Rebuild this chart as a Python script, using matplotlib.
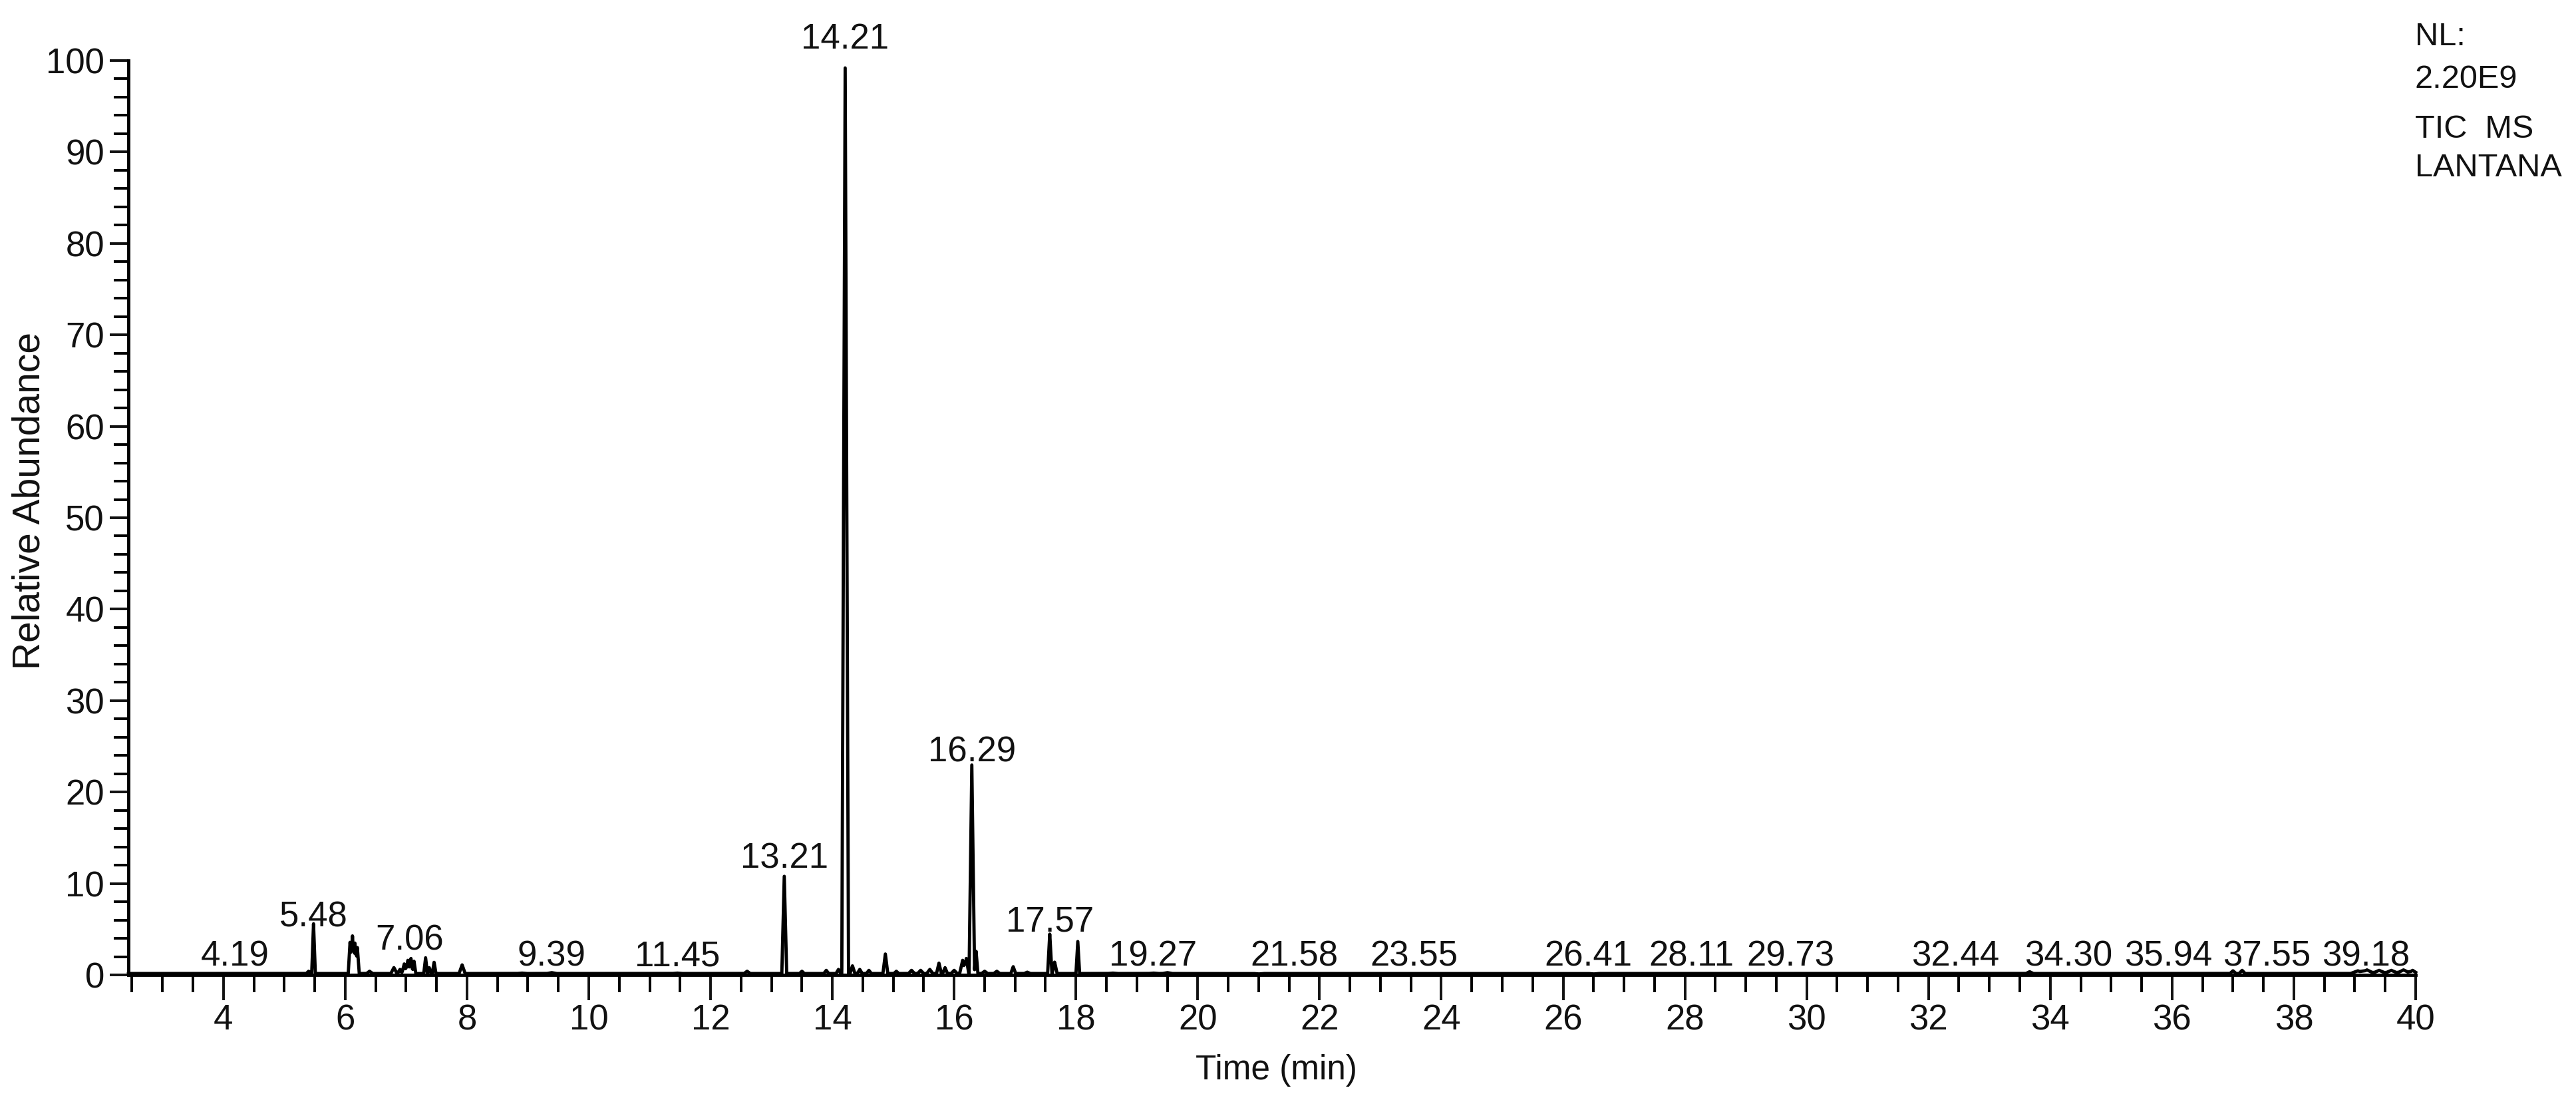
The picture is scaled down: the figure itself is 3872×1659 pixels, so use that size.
import numpy as np
import matplotlib
matplotlib.use("Agg")
import matplotlib.pyplot as plt
from matplotlib.ticker import MultipleLocator

plt.rcParams['font.family'] = ['Liberation Sans', 'DejaVu Sans']

# peak table: retention time (min), relative abundance, half width (min)
peak_rt = [4.19, 5.40, 5.48, 6.08, 6.12, 6.16, 6.20, 6.40, 6.80, 6.90, 6.97, 7.03, 7.08, 7.13,
           7.32, 7.38, 7.46, 7.92, 8.90, 9.39, 10.50, 11.45, 12.60, 13.21, 13.50, 13.90, 14.10,
           14.21, 14.33, 14.45, 14.60, 14.87, 15.05, 15.30, 15.45, 15.60, 15.75, 15.85, 16.00,
           16.14, 16.20, 16.29, 16.36, 16.50, 16.70, 16.97, 17.20, 17.57, 17.65, 18.03, 18.60,
           19.27, 19.50, 20.30, 21.00, 26.50, 33.66, 37.00, 37.15, 39.05, 39.20, 39.40, 39.60,
           39.80, 39.95]
peak_h = [0.15, 0.4, 5.6, 3.6, 4.3, 3.5, 3.0, 0.4, 0.8, 0.6, 1.2, 1.6, 1.8, 1.5,
          1.9, 0.8, 1.4, 1.1, 0.2, 0.25, 0.15, 0.2, 0.4, 10.8, 0.4, 0.5, 0.6,
          100.0, 1.0, 0.6, 0.5, 2.3, 0.4, 0.5, 0.5, 0.6, 1.3, 0.8, 0.5,
          1.6, 1.8, 23.0, 2.6, 0.4, 0.4, 0.9, 0.3, 4.5, 1.4, 3.7, 0.2,
          0.2, 0.25, 0.15, 0.1, 0.1, 0.35, 0.45, 0.5, 0.45, 0.55, 0.5, 0.5,
          0.55, 0.5]
peak_w = [0.05, 0.04, 0.03, 0.03, 0.03, 0.03, 0.03, 0.05, 0.05, 0.04, 0.04, 0.04, 0.03, 0.03,
          0.03, 0.03, 0.03, 0.05, 0.08, 0.08, 0.08, 0.08, 0.05, 0.04, 0.04, 0.04, 0.04,
          0.055, 0.04, 0.04, 0.04, 0.04, 0.04, 0.05, 0.05, 0.05, 0.04, 0.04, 0.05,
          0.05, 0.04, 0.045, 0.03, 0.05, 0.05, 0.04, 0.05, 0.035, 0.04, 0.03, 0.08,
          0.08, 0.08, 0.08, 0.08, 0.08, 0.06, 0.05, 0.05, 0.12, 0.12, 0.12, 0.12,
          0.12, 0.08]
baseline = 0.15

# annotated retention times and the height of each label
label_rt = ['4.19', '5.48', '7.06', '9.39', '11.45', '13.21', '14.21', '16.29', '17.57', '19.27',
            '21.58', '23.55', '26.41', '28.11', '29.73', '32.44', '34.30', '35.94', '37.55', '39.18']
label_y = [1.0, 5.3, 2.7, 1.0, 1.0, 11.7, 101.3, 23.3, 4.8, 1.0,
           1.0, 1.0, 1.0, 1.0, 1.0, 1.0, 1.0, 1.0, 1.0, 1.0]

t = np.linspace(2.44, 40.0, 30000)
signal = np.full_like(t, baseline)
for rt, h, w in zip(peak_rt, peak_h, peak_w):
    signal += np.interp(t, [rt - w, rt, rt + w], [0, h - baseline, 0], left=0, right=0)

fig = plt.figure(figsize=(38.73, 16.59), dpi=100)
ax = fig.add_axes([193 / 3873, 1 - 1465 / 1659, (3631 - 193) / 3873, (1465 - 91) / 1659])
ax.plot(t, signal, color='black', lw=3.5, clip_on=False)

ax.set_xlim(2.44, 40)
ax.set_ylim(0, 100)
ax.xaxis.set_major_locator(MultipleLocator(2))
ax.xaxis.set_minor_locator(MultipleLocator(0.5))
ax.yaxis.set_major_locator(MultipleLocator(10))
ax.yaxis.set_minor_locator(MultipleLocator(2))
for s in ['top', 'right']:
    ax.spines[s].set_visible(False)
for s in ['left', 'bottom']:
    ax.spines[s].set_linewidth(3.5)
ax.tick_params(axis='x', which='major', length=27, width=2.8, pad=4, labelsize=38, colors='#111111')
ax.tick_params(axis='x', which='minor', length=19, width=2.8)
ax.tick_params(axis='y', which='major', length=20, width=2.8, pad=6, labelsize=38, colors='#111111')
ax.tick_params(axis='y', which='minor', length=16, width=2.8)

for lab, y in zip(label_rt, label_y):
    ax.text(float(lab), y, lab, ha='center', va='baseline', fontsize=38, color='#111111', clip_on=False)

fig.text(45 / 3873, 1 - 753 / 1659, 'Relative Abundance', rotation=90, ha='center', va='center',
         fontsize=41, color='#111111')
fig.text(1918 / 3873, 1 - 1622 / 1659, 'Time (min)', ha='center', va='baseline',
         fontsize=37, color='#111111')

for txt, yb in zip(['NL:', '2.20E9', 'TIC  MS', 'LANTANA'], [68, 132, 207, 265]):
    fig.text(3630 / 3873, 1 - yb / 1659, txt, ha='left', va='baseline', fontsize=35, color='#111111')

fig.savefig('out.png', dpi=100)
